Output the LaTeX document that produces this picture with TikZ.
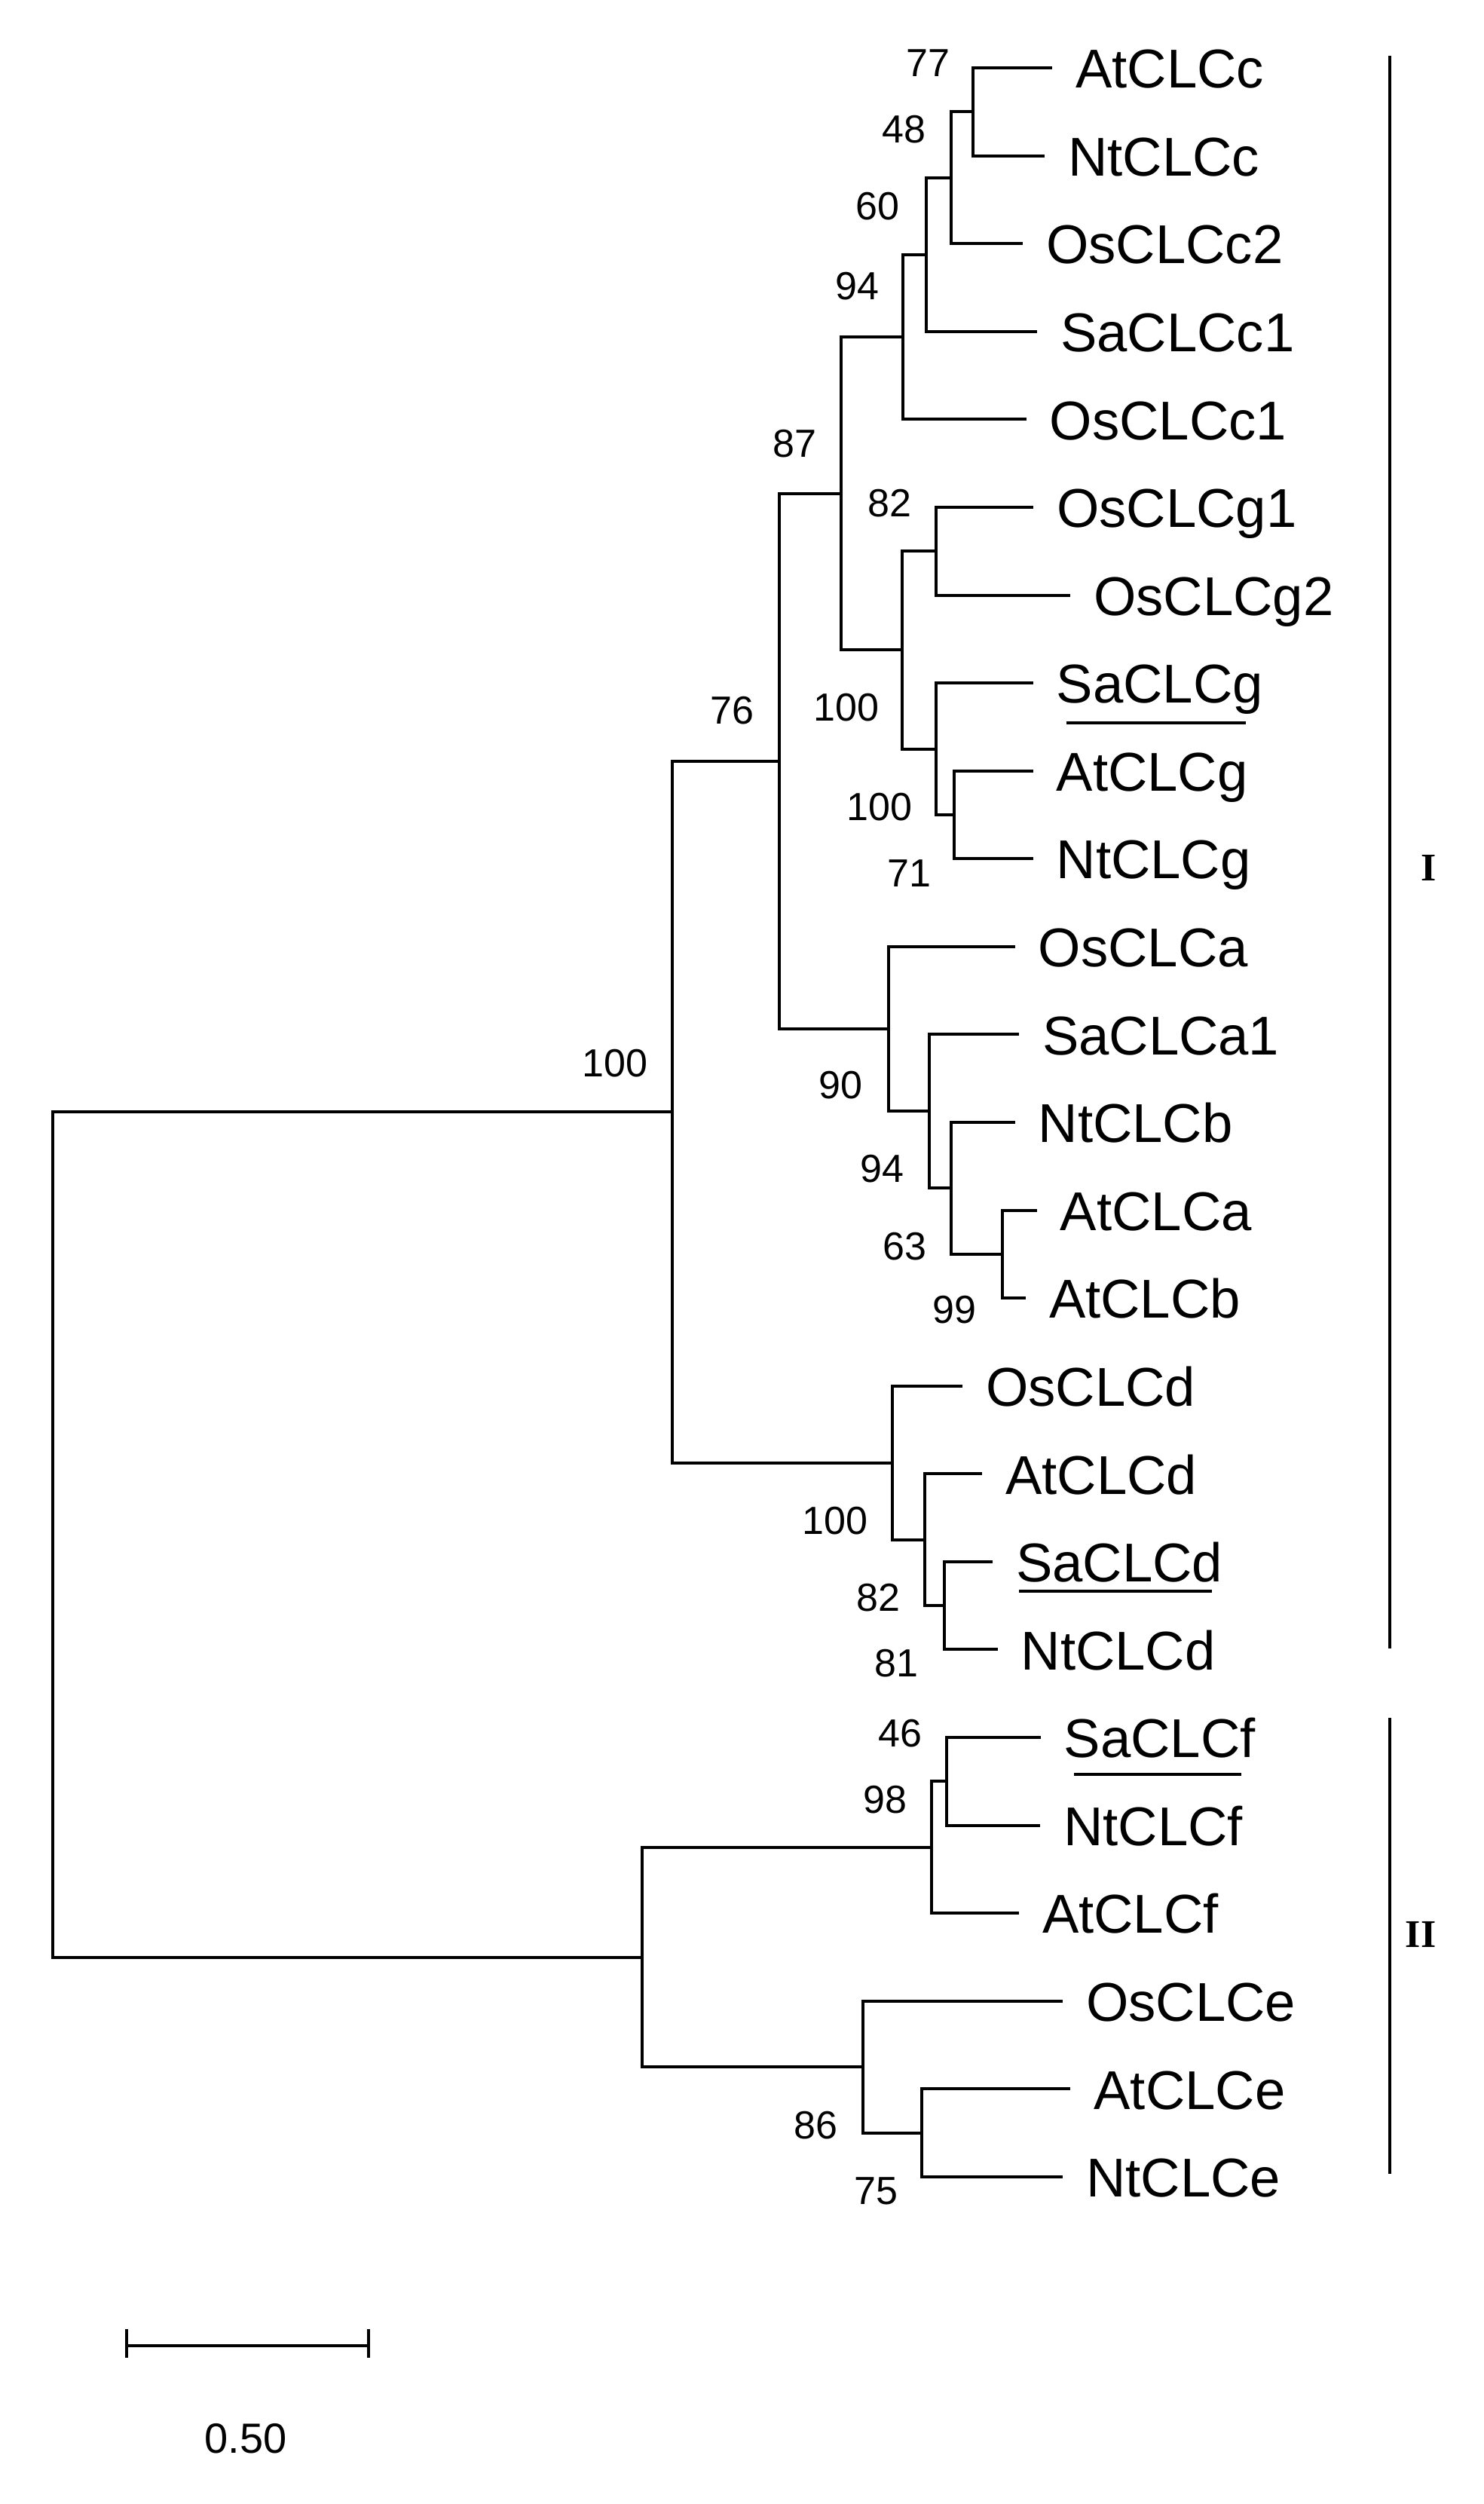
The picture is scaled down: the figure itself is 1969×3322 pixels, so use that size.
\documentclass[tikz,border=0pt]{standalone}
\usepackage{fontspec}
\setmainfont{Liberation Sans}
\newfontfamily\grpfont{Liberation Serif}
\begin{document}
\begin{tikzpicture}[x=1pt,y=-1pt,
  br/.style={line width=4pt, line join=miter},
  barline/.style={line width=3.7pt},
  ulline/.style={line width=4pt},
  leaflab/.style={anchor=base west, inner sep=0pt, font=\fontsize{72.5}{87}\selectfont},
  boot/.style={inner sep=0pt, text height=37pt, text depth=0pt, font=\fontsize{52}{60}\selectfont},
  grp/.style={inner sep=0pt, text height=34.5pt, text depth=0pt, font=\grpfont\bfseries\fontsize{52}{60}\selectfont},
  scalelab/.style={inner sep=0pt, text height=40pt, text depth=0pt, font=\fontsize{56}{64}\selectfont}]
\useasboundingbox (0,0) rectangle (1969,3322);
\fill[white] (0,0) rectangle (1969,3322);

% leaf ends
\coordinate (e0) at (1396,90.0);
\coordinate (e1) at (1386,206.6);
\coordinate (e2) at (1357,323.2);
\coordinate (e3) at (1376,439.7);
\coordinate (e4) at (1361.6,556.3);
\coordinate (e5) at (1371,672.9);
\coordinate (e6) at (1420,789.5);
\coordinate (e7) at (1370.7,906.1);
\coordinate (e8) at (1370.5,1022.6);
\coordinate (e9) at (1370.5,1139.2);
\coordinate (e10) at (1346.6,1255.8);
\coordinate (e11) at (1351.8,1372.4);
\coordinate (e12) at (1346.6,1489.0);
\coordinate (e13) at (1375.7,1605.5);
\coordinate (e14) at (1360.8,1722.1);
\coordinate (e15) at (1277,1838.7);
\coordinate (e16) at (1303,1955.3);
\coordinate (e17) at (1317,2071.9);
\coordinate (e18) at (1323.5,2188.4);
\coordinate (e19) at (1380.7,2305.0);
\coordinate (e20) at (1380,2421.6);
\coordinate (e21) at (1351.8,2538.2);
\coordinate (e22) at (1410,2654.8);
\coordinate (e23) at (1420.4,2771.3);
\coordinate (e24) at (1410,2887.9);

% internal nodes
\coordinate (n77) at (1291,148.3);
\coordinate (n48) at (1262,235.75);
\coordinate (n60) at (1228.7,337.7);
\coordinate (n94) at (1197.8,447.0);
\coordinate (ng12) at (1242,731.2);
\coordinate (nAN) at (1266,1080.9);
\coordinate (nSg) at (1241.5,993.5);
\coordinate (ng100) at (1196.7,862.35);
\coordinate (n87) at (1115.6,654.7);
\coordinate (n99) at (1329.5,1663.8);
\coordinate (n63) at (1262.3,1576.4);
\coordinate (n94a) at (1232.5,1474.4);
\coordinate (n90) at (1178.8,1365.1);
\coordinate (n76) at (1034,1009.9);
\coordinate (n81) at (1252.6,2130.15);
\coordinate (n82) at (1227,2042.7);
\coordinate (nd100) at (1184,1940.7);
\coordinate (n100) at (891.6,1475.3);
\coordinate (n46) at (1256,2363.3);
\coordinate (n98) at (1236,2450.75);
\coordinate (n75) at (1222.8,2829.6);
\coordinate (n86) at (1145,2742.2);
\coordinate (nII) at (852,2596.5);
\coordinate (root) at (70,2035.9);

% branches
\draw[br] (n77) |- (e0);  \draw[br] (n77) |- (e1);
\draw[br] (n48) |- (n77); \draw[br] (n48) |- (e2);
\draw[br] (n60) |- (n48); \draw[br] (n60) |- (e3);
\draw[br] (n94) |- (n60); \draw[br] (n94) |- (e4);
\draw[br] (ng12) |- (e5); \draw[br] (ng12) |- (e6);
\draw[br] (nAN) |- (e8);  \draw[br] (nAN) |- (e9);
\draw[br] (nSg) |- (e7);  \draw[br] (nSg) |- (nAN);
\draw[br] (ng100) |- (ng12); \draw[br] (ng100) |- (nSg);
\draw[br] (n87) |- (n94); \draw[br] (n87) |- (ng100);
\draw[br] (n99) |- (e13); \draw[br] (n99) |- (e14);
\draw[br] (n63) |- (e12); \draw[br] (n63) |- (n99);
\draw[br] (n94a) |- (e11); \draw[br] (n94a) |- (n63);
\draw[br] (n90) |- (e10); \draw[br] (n90) |- (n94a);
\draw[br] (n76) |- (n87); \draw[br] (n76) |- (n90);
\draw[br] (n81) |- (e17); \draw[br] (n81) |- (e18);
\draw[br] (n82) |- (e16); \draw[br] (n82) |- (n81);
\draw[br] (nd100) |- (e15); \draw[br] (nd100) |- (n82);
\draw[br] (n100) |- (n76); \draw[br] (n100) |- (nd100);
\draw[br] (n46) |- (e19); \draw[br] (n46) |- (e20);
\draw[br] (n98) |- (n46); \draw[br] (n98) |- (e21);
\draw[br] (n75) |- (e23); \draw[br] (n75) |- (e24);
\draw[br] (n86) |- (e22); \draw[br] (n86) |- (n75);
\draw[br] (nII) |- (n98); \draw[br] (nII) |- (n86);
\draw[br] (root) |- (n100); \draw[br] (root) |- (nII);

% leaf labels
\node[leaflab] (t0) at ([shift={(31pt,-26.7pt)}]e0) {AtCLCc};
\node[leaflab] (t1) at ([shift={(31pt,-26.7pt)}]e1) {NtCLCc};
\node[leaflab] (t2) at ([shift={(31pt,-26.7pt)}]e2) {OsCLCc2};
\node[leaflab] (t3) at ([shift={(31pt,-26.7pt)}]e3) {SaCLCc1};
\node[leaflab] (t4) at ([shift={(31pt,-26.7pt)}]e4) {OsCLCc1};
\node[leaflab] (t5) at ([shift={(31pt,-26.7pt)}]e5) {OsCLCg1};
\node[leaflab] (t6) at ([shift={(31pt,-26.7pt)}]e6) {OsCLCg2};
\node[leaflab] (t7) at ([shift={(31pt,-26.7pt)}]e7) {SaCLCg};
\node[leaflab] (t8) at ([shift={(31pt,-26.7pt)}]e8) {AtCLCg};
\node[leaflab] (t9) at ([shift={(31pt,-26.7pt)}]e9) {NtCLCg};
\node[leaflab] (t10) at ([shift={(31pt,-26.7pt)}]e10) {OsCLCa};
\node[leaflab] (t11) at ([shift={(31pt,-26.7pt)}]e11) {SaCLCa1};
\node[leaflab] (t12) at ([shift={(31pt,-26.7pt)}]e12) {NtCLCb};
\node[leaflab] (t13) at ([shift={(31pt,-26.7pt)}]e13) {AtCLCa};
\node[leaflab] (t14) at ([shift={(31pt,-26.7pt)}]e14) {AtCLCb};
\node[leaflab] (t15) at ([shift={(31pt,-26.7pt)}]e15) {OsCLCd};
\node[leaflab] (t16) at ([shift={(31pt,-26.7pt)}]e16) {AtCLCd};
\node[leaflab] (t17) at ([shift={(31pt,-26.7pt)}]e17) {SaCLCd};
\node[leaflab] (t18) at ([shift={(31pt,-26.7pt)}]e18) {NtCLCd};
\node[leaflab] (t19) at ([shift={(31pt,-26.7pt)}]e19) {SaCLCf};
\node[leaflab] (t20) at ([shift={(31pt,-26.7pt)}]e20) {NtCLCf};
\node[leaflab] (t21) at ([shift={(31pt,-26.7pt)}]e21) {AtCLCf};
\node[leaflab] (t22) at ([shift={(31pt,-26.7pt)}]e22) {OsCLCe};
\node[leaflab] (t23) at ([shift={(31pt,-26.7pt)}]e23) {AtCLCe};
\node[leaflab] (t24) at ([shift={(31pt,-26.7pt)}]e24) {NtCLCe};

% underlines
\draw[ulline] ([shift={(13.4pt,-26.6pt)}]t7.base west) -- ([shift={(251pt,-26.6pt)}]t7.base west);
\draw[ulline] ([shift={(3.7pt,-12pt)}]t17.base west) -- ([shift={(260.4pt,-12pt)}]t17.base west);
\draw[ulline] ([shift={(13.4pt,-22.6pt)}]t19.base west) -- ([shift={(235.4pt,-22.6pt)}]t19.base west);

% bootstrap values
\node[boot] (b77) at (1231,82.5) {77};
\node[boot] (b48) at (1199,171) {48};
\node[boot] (b60) at (1164,273) {60};
\node[boot] (b94) at (1137,379) {94};
\node[boot] (b87) at (1054,588) {87};
\node[boot] (b82) at (1180.5,667) {82};
\node[boot] (bg100) at (1123,938) {100};
\node[boot] (b76) at (971.5,942) {76};
\node[boot] (bAN) at (1167,1070) {100};
\node[boot] (b71) at (1206,1158) {71};
\node[boot] (broot) at (816,1410) {100};
\node[boot] (b90) at (1115,1439) {90};
\node[boot] (b94a) at (1170.6,1550) {94};
\node[boot] (b63) at (1200.5,1653) {63};
\node[boot] (b99) at (1266,1737) {99};
\node[boot] (bd100) at (1108,2017) {100};
\node[boot] (b82d) at (1165,2119) {82};
\node[boot] (b81) at (1189,2206) {81};
\node[boot] (b46) at (1194,2299) {46};
\node[boot] (b98) at (1174,2387) {98};
\node[boot] (b86) at (1082,2819) {86};
\node[boot] (b75) at (1162,2906) {75};

% group bars
\coordinate (gIt) at (1844,74);
\coordinate (gIb) at (1844,2186.7);
\coordinate (gIIt) at (1844,2279);
\coordinate (gIIb) at (1844,2884);
\draw[barline] (gIt) -- (gIb);
\draw[barline] (gIIt) -- (gIIb);
\node[grp] (lI) at (1896,1151.5) {I};
\node[grp] (lII) at (1885,2566.5) {II};

% scale bar
\coordinate (sbL) at (168.3,3112);
\coordinate (sbR) at (489,3112);
\coordinate (sbLt) at (168.3,3090);
\coordinate (sbLb) at (168.3,3128.3);
\coordinate (sbRt) at (489,3090);
\coordinate (sbRb) at (489,3128.3);
\draw[br] (sbL) -- (sbR);
\draw[br] (sbLt) -- (sbLb);
\draw[br] (sbRt) -- (sbRb);
\node[scalelab] (sl) at (326,3234) {0.50};
\end{tikzpicture}
\end{document}
